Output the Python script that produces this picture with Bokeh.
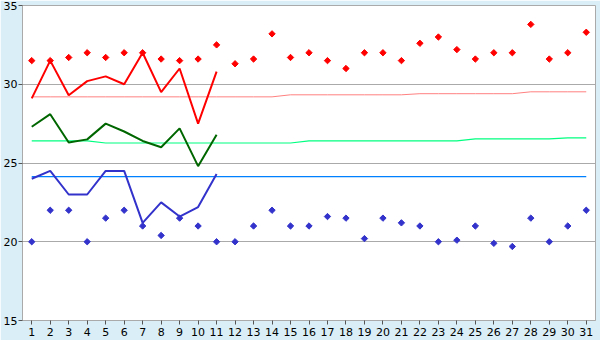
from bokeh.plotting import figure
from bokeh.models import Range1d, FixedTicker
from bokeh.embed import file_html
from bokeh.resources import INLINE

days = list(range(1, 32))
days_obs = list(range(1, 12))

red_line = [29.1, 31.5, 29.3, 30.2, 30.5, 30.0, 32.0, 29.5, 31.0, 27.5, 30.8]
green_line = [27.3, 28.1, 26.3, 26.5, 27.5, 27.0, 26.4, 26.0, 27.2, 24.8, 26.8]
blue_line = [24.0, 24.5, 23.0, 23.0, 24.5, 24.5, 21.2, 22.5, 21.6, 22.2, 24.3]

red_pts = [31.5, 31.5, 31.7, 32.0, 31.7, 32.0, 32.0, 31.6, 31.5, 31.6, 32.5,
           31.3, 31.6, 33.2, 31.7, 32.0, 31.5, 31.0, 32.0, 32.0, 31.5,
           32.6, 33.0, 32.2, 31.6, 32.0, 32.0, 33.8, 31.6, 32.0, 33.3]
blue_pts = [20.0, 22.0, 22.0, 20.0, 21.5, 22.0, 21.0, 20.4, 21.5, 21.0, 20.0,
            20.0, 21.0, 22.0, 21.0, 21.0, 21.6, 21.5, 20.2, 21.5, 21.2,
            21.0, 20.0, 20.1, 21.0, 19.9, 19.7, 21.5, 20.0, 21.0, 22.0]

pink_norm = [29.2] * 14 + [29.33] * 7 + [29.4] * 6 + [29.52] * 4
lgreen_norm = [26.4] * 4 + [26.27] * 11 + [26.4] * 9 + [26.53] * 5 + [26.6] * 2
blue_norm = [24.14] * 31

y_ticks = [15, 20, 25, 30, 35]

p = figure(width=600, height=340, output_backend="svg", toolbar_location=None,
           x_range=Range1d(0.5, 31.5), y_range=Range1d(15, 35))
p.min_border_left = 20
p.min_border_right = 5
p.min_border_top = 5
p.min_border_bottom = 20
p.border_fill_color = "#D9EEF6"
p.background_fill_color = "white"
p.outline_line_color = "#AAAAAA"
p.outline_line_width = 1

p.xgrid.visible = False
p.ygrid.ticker = FixedTicker(ticks=[20, 25, 30])
p.ygrid.grid_line_color = "#AAAAAA"

for ax in (p.xaxis[0], p.yaxis[0]):
    ax.axis_line_color = "#AAAAAA"
    ax.major_tick_line_color = "#555555"
    ax.major_tick_in = 0
    ax.major_tick_out = 4
    ax.minor_tick_line_color = None
    ax.major_label_text_font = "DejaVu Sans"
    ax.major_label_text_font_size = "11px"
    ax.major_label_text_color = "black"
p.xaxis.ticker = FixedTicker(ticks=days)
p.yaxis.ticker = FixedTicker(ticks=y_ticks)
p.xaxis.major_label_standoff = 3
p.yaxis.major_label_standoff = 1

p.line(days, pink_norm, line_color="#FF8080", line_width=1)
p.line(days, lgreen_norm, line_color="#00FF80", line_width=1.2)
p.line(days, blue_norm, line_color="#0080FF", line_width=1.2)

p.line(days_obs, red_line, line_color="#FF0000", line_width=2)
p.line(days_obs, green_line, line_color="#006600", line_width=2)
p.line(days_obs, blue_line, line_color="#3333CC", line_width=2)

p.scatter(days, red_pts, marker="square", size=4.5, angle=0.785, color="#FF0000")
p.scatter(days, blue_pts, marker="square", size=4.5, angle=0.785, color="#3333CC")

open("out.html", "w").write(file_html(p, INLINE))
